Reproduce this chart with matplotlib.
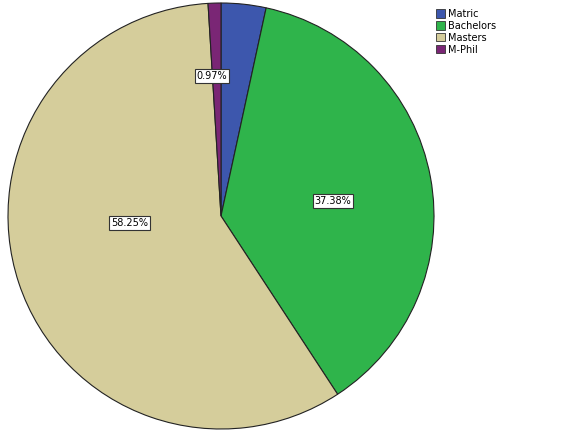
import numpy as np
import matplotlib.pyplot as plt
from matplotlib.patches import Patch

categories = ["Matric", "Bachelors", "Masters", "M-Phil"]
percents = [3.40, 37.38, 58.25, 0.97]
colors = ["#3d57ad", "#2fb44b", "#d5cd9b", "#7a2675"]

fig = plt.figure(figsize=(5.8, 4.36), dpi=100)
ax = fig.add_axes([8 / 580, 7 / 436, 426 / 580, 426 / 436])

wedges, _ = ax.pie(percents, colors=colors, startangle=90, counterclock=False,
                   radius=1.0, wedgeprops=dict(edgecolor="#222222", linewidth=0.8))

# label placement, SPSS style (distance from centre, angle nudge in degrees)
label_pos = {1: (0.53, -3), 2: (0.43, -14), 3: (0.66, 2)}
for i, w in enumerate(wedges):
    if i not in label_pos:
        continue
    r, da = label_pos[i]
    ang = np.deg2rad((w.theta1 + w.theta2) / 2 + da)
    ax.text(r * np.cos(ang), r * np.sin(ang), f"{percents[i]:.2f}%",
            ha="center", va="center", fontsize=7,
            bbox=dict(boxstyle="square,pad=0.2", fc="white", ec="#333333", lw=0.8))

ax.set_xlim(-1, 1)
ax.set_ylim(-1, 1)
ax.set_aspect("equal")
ax.axis("off")

handles = [Patch(facecolor=c, edgecolor="#333333", linewidth=0.6) for c in colors]
fig.legend(handles, categories, loc="upper left", bbox_to_anchor=(432 / 580, 1 - 5 / 436),
           frameon=False, fontsize=7, handlelength=0.9, handleheight=0.9,
           handletextpad=0.3, labelspacing=0.2, borderaxespad=0)

fig.savefig("out.png", dpi=100)
